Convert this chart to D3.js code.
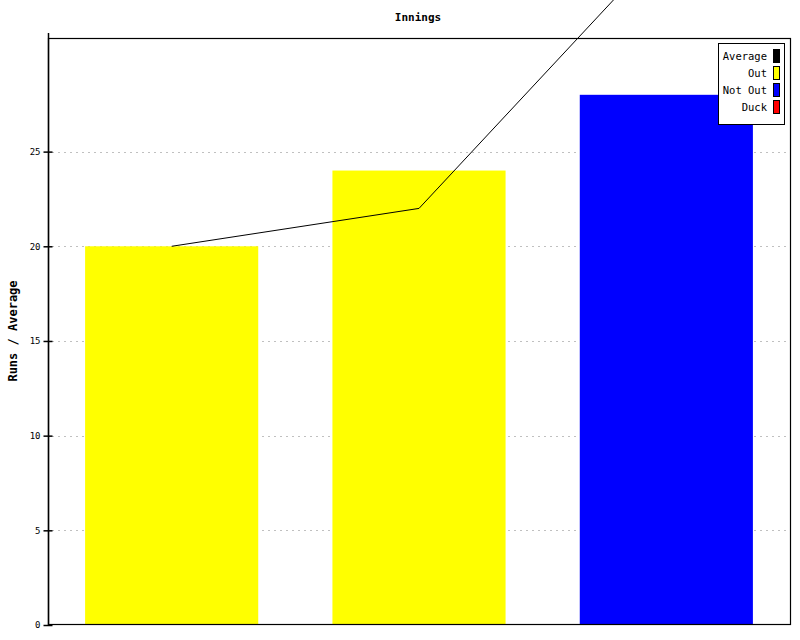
<!DOCTYPE html>
<html>
<head>
<meta charset="utf-8">
<script src="https://cdn.jsdelivr.net/npm/d3@7"></script>
<style>
body { margin: 0; background: #fff; }
text { font-family: "DejaVu Sans Mono", monospace; }
</style>
</head>
<body>
<div id="chart"></div>
<script>
var innings = ["1", "2", "3"];
var runs = [20, 24, 28];
var outcome = ["Out", "Out", "Not Out"];
var average = [20, 22, 36];
var yTicks = [0, 5, 10, 15, 20, 25];
var legendLabels = ["Average", "Out", "Not Out", "Duck"];
var legendColors = ["#000000", "#ffff00", "#0000ff", "#ff0000"];

var w = 800;
var h = 640;
var m = {top: 38, right: 10, bottom: 15, left: 48};

var colorOf = d3.scaleOrdinal().domain(legendLabels).range(legendColors);

var svg = d3.select("#chart")
	.append("svg")
	.attr("width", w)
	.attr("height", h);

var x = d3.scaleBand().domain(innings).range([m.left, w - m.right]).paddingInner(0.3).paddingOuter(0.15);
var y = d3.scaleLinear().domain([0, 31]).range([h - m.bottom, m.top]);

// grid
svg.append("g")
	.selectAll("line")
	.data(yTicks.slice(1))
	.enter().append("line")
	.attr("x1", m.left + 4)
	.attr("x2", w - m.right)
	.attr("y1", function(d) { return Math.round(y(d)) + 0.5; })
	.attr("y2", function(d) { return Math.round(y(d)) + 0.5; })
	.attr("stroke", "#c0c0c0")
	.attr("stroke-dasharray", "2,4");

// bars
svg.append("g")
	.selectAll("rect")
	.data(runs)
	.enter().append("rect")
	.attr("x", function(d, i) { return x(innings[i]); })
	.attr("width", x.bandwidth())
	.attr("y", function(d) { return y(d); })
	.attr("height", function(d) { return y(0) - y(d); })
	.attr("fill", function(d, i) { return colorOf(outcome[i]); });

// frame
svg.append("rect")
	.attr("x", m.left + 0.5)
	.attr("y", m.top + 0.5)
	.attr("width", w - m.left - m.right)
	.attr("height", h - m.top - m.bottom - 1)
	.attr("fill", "none")
	.attr("stroke", "#000")
	.attr("stroke-width", 1.2);

// y axis
var yAxis = d3.axisLeft(y).tickValues(yTicks).tickSize(5).tickSizeOuter(0).tickPadding(4);
var ax = svg.append("g")
	.attr("transform", "translate(" + (m.left + 0.5) + ",0)")
	.call(yAxis);
ax.select(".domain").attr("d", "M0," + (m.top - 5) + "V" + (h - m.bottom)).attr("stroke-width", 1.5);
ax.selectAll(".tick line").attr("x2", -5).attr("x1", 4).attr("stroke-width", 1.5);
ax.selectAll(".tick text")
	.style("font-family", "'DejaVu Sans Mono', monospace")
	.style("font-size", "9px")
	.attr("x", -8);

// average line
var line = d3.line()
	.x(function(d, i) { return x(innings[i]) + x.bandwidth() / 2; })
	.y(function(d) { return y(d); });

svg.append("path")
	.datum(average)
	.attr("d", line)
	.attr("fill", "none")
	.attr("stroke", "#000")
	.attr("stroke-width", 1);

// title
svg.append("text")
	.attr("x", 418)
	.attr("y", 21)
	.attr("text-anchor", "middle")
	.style("font-size", "11px")
	.style("font-weight", "bold")
	.text("Innings");

svg.append("text")
	.attr("transform", "translate(17," + 331 + ") rotate(-90)")
	.attr("text-anchor", "middle")
	.style("font-size", "12px")
	.style("font-weight", "bold")
	.text("Runs / Average");

// legend
var lg = svg.append("g").attr("transform", "translate(718,43)");
lg.append("rect")
	.attr("x", 0.5).attr("y", 0.5)
	.attr("width", 66).attr("height", 81)
	.attr("fill", "#fff")
	.attr("stroke", "#000");

var item = lg.selectAll("g.item")
	.data(legendLabels)
	.enter().append("g")
	.attr("class", "item")
	.attr("transform", function(d, i) { return "translate(0," + (13 + i * 17) + ")"; });

item.append("rect")
	.attr("x", 55.5).attr("y", -6.5)
	.attr("width", 6).attr("height", 13)
	.attr("fill", function(d) { return colorOf(d); })
	.attr("stroke", "#000");

item.append("text")
	.attr("x", 49)
	.attr("y", 4)
	.attr("text-anchor", "end")
	.style("font-size", "10.5px")
	.text(function(d) { return d; });
</script>
</body>
</html>
